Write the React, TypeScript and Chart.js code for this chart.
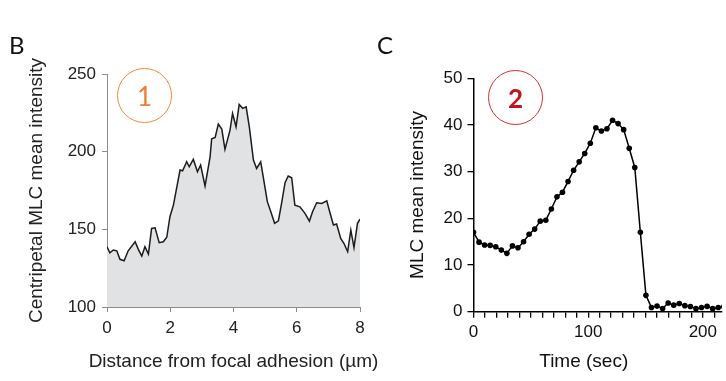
import React, { useEffect, useRef } from "react";
import { Chart, registerables } from "chart.js";

Chart.register(...registerables);

// ---------- Panel B: centripetal MLC intensity profile ----------
const distanceUm = [
  0, 0.09, 0.2, 0.31, 0.41, 0.54, 0.67, 0.89, 0.99, 1.1,
  1.2, 1.31, 1.41, 1.52, 1.65, 1.78, 1.89, 1.99, 2.1, 2.2,
  2.31, 2.39, 2.52, 2.6, 2.73, 2.86, 2.96, 3.1, 3.26, 3.31,
  3.42, 3.52, 3.63, 3.73, 3.89, 3.97, 4.08, 4.18, 4.29, 4.4,
  4.5, 4.63, 4.73, 4.86, 4.94, 5.07, 5.18, 5.3, 5.42, 5.52,
  5.63, 5.73, 5.84, 5.94, 6.1, 6.26, 6.4, 6.5, 6.63, 6.79,
  6.95, 7.05, 7.16, 7.26, 7.39, 7.49, 7.61, 7.71, 7.81, 7.92, 8.0,
];
const centripetalIntensity = [
  138.8, 134.9, 136.7, 136.2, 130.7, 129.8, 136.2, 142.0, 137.1, 132.8,
  138.8, 134.1, 150.6, 151.0, 141.4, 142.0, 144.9, 158.1, 165.6, 176.4,
  188.2, 187.7, 193.5, 190.3, 195.0, 187.1, 191.4, 177.9, 196.7, 208.3,
  209.2, 217.8, 214.5, 201.5, 213.9, 224.6, 216.0, 230.4, 227.9, 228.9,
  216.0, 194.6, 189.2, 193.5, 183.8, 167.8, 161.3, 153.9, 155.5, 166.7,
  180.0, 184.3, 183.2, 165.6, 164.5, 160.3, 155.3, 161.3, 167.1, 166.7,
  168.4, 160.7, 152.8, 153.4, 144.2, 141.0, 135.6, 149.5, 138.2, 153.9, 156.5,
];
const distanceTicks = [0, 2, 4, 6, 8];
const intensityTicks = [100, 150, 200, 250];

// ---------- Panel C: MLC mean intensity over time ----------
const timeSec = [
  0, 4.85, 9.7, 14.55, 19.4, 24.25, 29.1, 33.95, 38.8, 43.65,
  48.5, 53.35, 58.2, 63.05, 67.9, 72.75, 77.6, 82.45, 87.3, 92.15,
  97, 101.85, 106.7, 111.55, 116.4, 121.25, 126.1, 130.95, 135.8, 140.65,
  145.5, 150.35, 155.2, 160.05, 164.9, 169.75, 174.6, 179.45, 184.3, 189.15,
  194, 198.85, 203.7, 208.55, 213.4, 218.25,
];
const mlcIntensity = [
  17.0, 14.9, 14.3, 14.2, 13.9, 13.2, 12.5, 14.1, 13.7, 15.0,
  16.6, 17.7, 19.4, 19.6, 22.0, 24.6, 25.6, 27.9, 30.3, 32.1,
  33.9, 36.1, 39.4, 38.7, 39.2, 41.0, 40.3, 39.0, 35.0, 30.9,
  17.0, 3.5, 0.9, 1.2, 0.7, 1.85, 1.4, 1.75, 1.3, 1.1,
  0.65, 0.9, 1.15, 0.65, 0.9, 1.1,
];
const timeTicks = [0, 10, 20, 30, 40, 50, 60, 70, 80, 90, 100, 110, 120, 130, 140, 150, 160, 170, 180, 190, 200, 210];
const timeLabelTicks = [0, 100, 200];
const mlcTicks = [0, 10, 20, 30, 40, 50];

const FONT = "'Liberation Sans', Arial, sans-serif";

// Draws an x-axis title at full width (Chart.js would squeeze it to the axis length)
function xTitlePlugin(id: string, text: string, color: string, dx: number) {
  return {
    id,
    afterDraw(chart: any) {
      const xs = chart.scales.x;
      const ctx = chart.ctx;
      ctx.save();
      ctx.font = `19px ${FONT}`;
      ctx.fillStyle = color;
      ctx.textAlign = "center";
      ctx.textBaseline = "middle";
      ctx.fillText(text, (xs.left + xs.right) / 2 + dx, xs.bottom - 19);
      ctx.restore();
    },
  };
}

export default function App() {
  const refB = useRef<HTMLCanvasElement | null>(null);
  const refC = useRef<HTMLCanvasElement | null>(null);

  useEffect(() => {
    const grayAxis = "#8c8c8c";
    const chartB = new Chart(refB.current as HTMLCanvasElement, {
      type: "line",
      data: {
        datasets: [
          {
            data: distanceUm.map((x, i) => ({ x, y: centripetalIntensity[i] })),
            borderColor: "#1c1c1c",
            borderWidth: 1.5,
            backgroundColor: "#e1e2e4",
            fill: "start",
            pointRadius: 0,
            tension: 0,
          },
        ],
      },
      plugins: [xTitlePlugin("distTitle", "Distance from focal adhesion (µm)", "#222", 0)],
      options: {
        animation: false,
        responsive: false,
        maintainAspectRatio: false,
        layout: { padding: { top: 74, right: 20, left: 0, bottom: 0 } },
        plugins: { legend: { display: false }, tooltip: { enabled: false } },
        scales: {
          x: {
            type: "linear",
            min: 0,
            max: 8,
            afterFit: (s: any) => { s.height = 74; },
            afterBuildTicks: (s: any) => { s.ticks = distanceTicks.map((v) => ({ value: v })); },
            grid: { drawOnChartArea: false, drawTicks: true, tickLength: 5, color: grayAxis, lineWidth: 1 },
            border: { display: true, color: grayAxis, width: 1 },
            ticks: { color: "#222", font: { family: FONT, size: 17 }, padding: 6, maxRotation: 0, autoSkip: false },
            title: { display: false },
          },
          y: {
            type: "linear",
            min: 100,
            max: 250,
            afterFit: (s: any) => { s.width = 107; },
            afterBuildTicks: (s: any) => { s.ticks = intensityTicks.map((v) => ({ value: v })); },
            grid: { drawOnChartArea: false, drawTicks: true, tickLength: 5, color: grayAxis, lineWidth: 1 },
            border: { display: true, color: grayAxis, width: 1 },
            ticks: { color: "#222", font: { family: FONT, size: 17 }, padding: 6, autoSkip: false },
            title: {
              display: true,
              text: "Centripetal MLC mean intensity",
              color: "#222",
              font: { family: FONT, size: 19 },
              padding: { top: 25.6, bottom: 0 },
            },
          },
        },
      },
    } as any);

    const chartC = new Chart(refC.current as HTMLCanvasElement, {
      type: "line",
      data: {
        datasets: [
          {
            data: timeSec.map((x, i) => ({ x, y: mlcIntensity[i] })),
            borderColor: "#000",
            borderWidth: 1.5,
            backgroundColor: "#000",
            pointBackgroundColor: "#000",
            pointBorderColor: "#000",
            pointRadius: 2.8,
            pointBorderWidth: 0,
            fill: false,
            tension: 0,
          },
        ],
      },
      plugins: [xTitlePlugin("timeTitle", "Time (sec)", "#111", -14)],
      options: {
        animation: false,
        responsive: false,
        maintainAspectRatio: false,
        layout: { padding: { top: 78.3, right: 0, left: 0, bottom: 0 } },
        plugins: { legend: { display: false }, tooltip: { enabled: false } },
        scales: {
          x: {
            type: "linear",
            min: 0,
            max: 216.7,
            afterFit: (s: any) => { s.height = 69.3; },
            afterBuildTicks: (s: any) => { s.ticks = timeTicks.map((v) => ({ value: v })); },
            grid: { drawOnChartArea: false, drawTicks: true, tickLength: 6, color: "#000", lineWidth: 1.3 },
            border: { display: true, color: "#000", width: 1.5 },
            ticks: {
              color: "#111",
              font: { family: FONT, size: 17 },
              padding: 4,
              maxRotation: 0,
              autoSkip: false,
              callback: (v: any) => (timeLabelTicks.includes(Number(v)) ? String(v) : ""),
            },
            title: { display: false },
          },
          y: {
            type: "linear",
            min: 0,
            max: 50,
            afterFit: (s: any) => { s.width = 93.5; },
            afterBuildTicks: (s: any) => { s.ticks = mlcTicks.map((v) => ({ value: v })); },
            grid: { drawOnChartArea: false, drawTicks: true, tickLength: 6, color: "#000", lineWidth: 1.3 },
            border: { display: true, color: "#000", width: 1.5 },
            ticks: { color: "#111", font: { family: FONT, size: 17 }, padding: 5, autoSkip: false },
            title: {
              display: true,
              text: "MLC mean intensity",
              color: "#111",
              font: { family: FONT, size: 19 },
              padding: { top: 26.6, bottom: 0 },
            },
          },
        },
      },
    } as any);

    return () => {
      chartB.destroy();
      chartC.destroy();
    };
  }, []);

  const letterStyle: React.CSSProperties = {
    position: "absolute",
    top: 30,
    fontFamily: "Lato, 'Open Sans', sans-serif",
    fontSize: 24,
    color: "#111",
    lineHeight: "30px",
  };
  const circleBase: React.CSSProperties = {
    position: "absolute",
    width: 55,
    height: 55,
    boxSizing: "border-box",
    borderRadius: "50%",
    display: "flex",
    alignItems: "center",
    justifyContent: "center",
    fontFamily: "Lato, 'Open Sans', sans-serif",
    fontSize: 26,
    lineHeight: "1",
  };

  return (
    <div style={{ position: "absolute", left: 0, top: 0, width: 726, height: 381, background: "#fff", overflow: "hidden" }}>
      <canvas ref={refB} width={380} height={381} style={{ position: "absolute", left: 0, top: 0, width: 380, height: 381 }} />
      <canvas ref={refC} width={346} height={381} style={{ position: "absolute", left: 380, top: 0, width: 346, height: 381 }} />
      <div style={{ ...letterStyle, left: 9 }}>B</div>
      <div style={{ ...letterStyle, left: 377 }}>C</div>
      <div style={{ ...circleBase, left: 117, top: 68, border: "1.5px solid #ef8a3c", color: "#ef7d2e" }}>1</div>
      <div style={{ ...circleBase, left: 488, top: 70, border: "1.5px solid #d9312b", color: "#c0141a", fontWeight: 700 }}>2</div>
    </div>
  );
}
